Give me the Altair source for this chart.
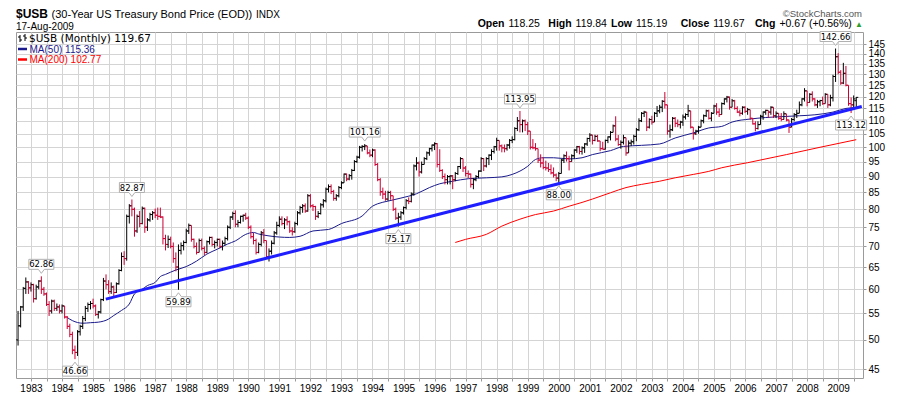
import altair as alt
import pandas as pd

# ---------------- data ----------------
START_YEAR, START_MONTH = 1982, 8          # first monthly bar: Aug 1982

close = [
    52.6, 56.3, 60.2, 61.6, 60.3,                                              # 1982 Aug-Dec
    61.0, 58.0, 60.5, 61.8, 60.0, 59.0, 56.8, 55.5, 57.5, 56.0, 56.3, 55.5,     # 1983
    56.5, 54.3, 52.5, 51.0, 48.2, 47.8, 51.5, 52.5, 54.0, 56.0, 56.8, 57.0,     # 1984
    56.5, 54.8, 55.3, 57.8, 61.8, 61.0, 59.5, 60.5, 59.3, 61.2, 64.2, 67.5,     # 1985
    67.0, 78.0, 81.0, 80.0, 74.0, 78.0, 76.0, 80.3, 75.0, 77.0, 78.5, 79.0,     # 1986
    78.3, 78.0, 77.8, 72.0, 70.5, 71.8, 70.0, 67.0, 65.0, 69.0, 70.2, 71.0,     # 1987
    74.0, 75.5, 71.8, 70.0, 68.5, 71.5, 69.5, 68.5, 71.2, 72.3, 70.5, 71.0,     # 1988
    71.8, 70.0, 70.8, 72.0, 75.0, 77.8, 78.8, 75.8, 76.3, 78.0, 78.3, 77.5,     # 1989
    75.0, 72.5, 71.5, 68.5, 70.5, 73.5, 71.5, 67.5, 68.8, 70.8, 73.5, 75.5,     # 1990
    77.2, 76.0, 77.0, 76.5, 74.0, 73.8, 76.0, 79.0, 80.5, 81.0, 79.5, 84.0,     # 1991
    81.0, 80.8, 78.0, 78.8, 81.3, 82.5, 86.0, 86.8, 85.3, 83.2, 84.0, 86.5,     # 1992
    88.0, 90.8, 89.2, 90.3, 92.0, 95.0, 96.5, 100.0, 100.3, 100.5, 98.0, 97.2,  # 1993
    99.0, 94.0, 89.0, 85.2, 84.5, 83.0, 85.0, 84.0, 80.0, 77.5, 77.8, 79.0,     # 1994
    80.5, 82.5, 82.3, 84.5, 93.5, 94.5, 91.5, 94.0, 96.0, 98.0, 99.5, 100.8,    # 1995
    101.3, 94.0, 92.0, 90.0, 89.0, 90.0, 90.2, 89.0, 91.0, 93.3, 96.0, 92.8,    # 1996
    91.0, 90.8, 87.5, 89.0, 90.0, 91.8, 96.0, 93.5, 96.0, 97.2, 98.5, 100.2,    # 1997
    102.5, 100.5, 99.8, 99.5, 100.8, 102.5, 102.8, 107.0, 110.0, 108.5, 110.0, 108.5,  # 1998
    106.0, 100.0, 99.8, 99.5, 95.5, 94.5, 93.0, 92.8, 92.3, 91.2, 90.5, 89.5,   # 1999
    91.0, 95.5, 97.0, 96.0, 95.0, 97.0, 99.0, 100.2, 98.5, 99.8, 101.2, 103.2,  # 2000
    104.5, 102.5, 104.0, 102.3, 99.5, 99.3, 102.5, 103.8, 105.5, 108.0, 103.0, 101.0,  # 2001
    101.8, 103.5, 98.0, 101.5, 102.0, 104.0, 106.5, 110.0, 113.0, 113.5, 107.5, 110.5,  # 2002
    109.5, 113.0, 114.0, 115.5, 118.0, 116.5, 106.0, 106.5, 111.0, 109.0, 108.5, 109.5,  # 2003
    111.5, 112.5, 114.0, 107.5, 105.0, 106.0, 107.5, 110.0, 112.0, 114.0, 111.0, 113.0,  # 2004
    116.0, 113.5, 112.5, 117.0, 119.0, 119.8, 115.5, 118.2, 115.0, 113.5, 113.0, 115.5,  # 2005
    113.8, 114.5, 111.0, 108.8, 107.0, 108.5, 111.8, 113.5, 114.2, 113.5, 115.5, 112.0,  # 2006
    113.0, 111.0, 110.5, 112.8, 110.3, 107.5, 110.5, 112.5, 113.0, 116.5, 119.0, 122.5,  # 2007
    117.5, 121.0, 119.0, 116.5, 117.8, 118.3, 117.0, 121.0, 116.5, 119.5, 129.0, 138.5,  # 2008
    131.0, 126.0, 130.5, 125.0, 117.0, 116.5, 119.0, 119.67,                    # 2009 Jan-Aug
]
high = [
    55.5, 56.5, 60.5, 62.6, 61.8,
    61.5, 61.2, 61.0, 62.0, 62.86, 60.5, 59.3, 57.5, 57.8, 57.8, 57.0, 56.8,
    56.8, 56.5, 54.5, 53.0, 51.5, 49.0, 51.8, 52.8, 54.5, 56.5, 57.2, 57.5,
    58.0, 56.8, 55.5, 58.0, 62.5, 63.3, 62.0, 61.5, 60.8, 61.5, 64.5, 68.5,
    68.8, 78.5, 81.5, 82.87, 80.5, 78.5, 79.5, 80.8, 80.5, 77.5, 79.0, 79.5,
    80.2, 80.5, 80.5, 78.0, 73.0, 72.8, 72.5, 71.0, 68.5, 70.5, 71.0, 71.5,
    74.6, 76.0, 75.5, 72.0, 71.0, 72.0, 72.0, 70.0, 71.5, 72.5, 72.5, 71.5,
    72.0, 72.0, 71.5, 72.5, 75.5, 78.0, 79.3, 79.7, 77.0, 78.2, 78.5, 79.0,
    78.0, 75.5, 73.5, 72.0, 71.0, 74.0, 74.5, 71.5, 69.5, 71.5, 74.0, 76.5,
    78.0, 78.0, 77.5, 78.0, 76.8, 75.0, 76.5, 79.5, 81.0, 81.5, 81.7, 84.5,
    84.5, 81.5, 81.0, 79.5, 81.8, 83.0, 86.5, 87.5, 87.5, 85.8, 84.5, 87.0,
    88.5, 91.0, 91.0, 90.8, 92.5, 95.5, 97.0, 100.5, 100.8, 101.16, 100.5, 99.2,
    99.5, 99.3, 94.5, 89.5, 86.5, 85.5, 85.5, 85.5, 84.0, 80.5, 79.0, 79.5,
    80.8, 83.0, 83.5, 85.0, 94.0, 96.5, 95.0, 95.0, 96.5, 98.5, 99.8, 101.0,
    101.8, 101.5, 99.3, 92.4, 91.0, 90.5, 90.5, 90.5, 91.5, 93.5, 96.5, 96.0,
    93.5, 92.0, 91.0, 89.5, 90.5, 92.0, 96.5, 96.2, 96.5, 97.5, 99.3, 100.5,
    103.5, 102.0, 101.0, 101.0, 101.2, 103.0, 104.0, 107.5, 111.5, 113.95, 110.5, 110.5,
    109.5, 104.5, 103.0, 101.5, 99.0, 97.5, 96.5, 95.3, 94.5, 94.0, 93.0, 91.0,
    91.5, 96.0, 97.5, 98.5, 97.0, 97.5, 99.3, 100.5, 100.5, 100.3, 101.5, 103.5,
    105.2, 104.6, 104.6, 104.6, 102.2, 102.0, 102.8, 104.0, 106.0, 108.5, 111.8, 104.5,
    102.5, 104.6, 103.0, 102.5, 102.8, 104.6, 107.2, 111.0, 113.5, 114.0, 112.0, 111.0,
    112.0, 113.5, 116.0, 116.5, 118.5, 122.0, 116.5, 108.5, 111.5, 111.5, 110.5, 110.0,
    112.5, 113.0, 116.5, 114.0, 107.5, 106.5, 108.0, 110.5, 112.5, 114.5, 114.5, 113.5,
    116.5, 117.2, 115.0, 117.5, 119.3, 120.3, 120.0, 119.0, 118.6, 115.9, 114.5, 115.9,
    115.9, 115.2, 114.5, 111.1, 109.8, 109.8, 112.4, 113.8, 114.5, 113.8, 115.9, 114.5,
    113.8, 113.1, 113.1, 113.8, 112.4, 110.4, 111.1, 113.1, 114.5, 117.9, 119.3, 123.7,
    122.5, 121.5, 122.3, 119.3, 118.6, 118.6, 120.0, 121.5, 121.0, 120.8, 129.8, 142.66,
    140.3, 132.0, 135.5, 134.0, 125.0, 119.6, 120.5, 119.84,
]
low = [
    49.0, 52.3, 55.5, 59.0, 59.0,
    59.5, 57.2, 57.8, 60.0, 59.0, 58.6, 56.5, 54.5, 55.0, 55.5, 55.5, 55.0,
    55.0, 54.0, 52.0, 50.5, 47.5, 46.66, 47.2, 50.8, 52.0, 53.5, 55.3, 55.8,
    56.0, 54.5, 54.0, 55.0, 57.5, 60.0, 59.0, 59.0, 58.5, 59.2, 61.0, 64.0,
    65.5, 66.5, 76.0, 78.0, 72.5, 73.5, 75.0, 75.8, 73.5, 74.0, 76.5, 77.0,
    77.5, 77.0, 77.5, 70.5, 69.0, 69.6, 69.5, 66.0, 64.0, 59.89, 68.0, 69.0,
    70.8, 73.2, 71.2, 69.5, 68.0, 68.5, 69.0, 67.8, 68.3, 70.5, 70.0, 69.5,
    70.0, 69.5, 69.0, 70.3, 71.5, 74.5, 77.0, 75.0, 75.0, 76.0, 76.5, 77.0,
    74.5, 72.0, 70.5, 68.0, 68.3, 70.0, 70.8, 67.0, 66.3, 68.0, 70.5, 73.0,
    75.0, 75.5, 74.5, 75.5, 73.5, 72.8, 73.5, 75.5, 78.5, 79.0, 79.0, 79.3,
    80.5, 79.5, 77.0, 77.5, 78.5, 80.5, 82.0, 85.0, 84.5, 82.5, 82.5, 83.5,
    86.0, 88.0, 88.5, 88.8, 89.0, 91.8, 94.5, 96.0, 98.5, 99.0, 97.5, 96.5,
    96.5, 93.5, 88.5, 84.0, 83.0, 82.5, 82.5, 82.8, 79.5, 77.0, 75.17, 77.0,
    78.5, 80.0, 81.5, 82.0, 84.0, 92.0, 90.0, 91.0, 94.0, 95.5, 97.0, 98.5,
    99.0, 93.0, 91.5, 89.2, 87.5, 87.5, 87.5, 86.0, 88.5, 90.5, 92.5, 91.5,
    90.0, 89.5, 86.5, 86.0, 88.5, 89.5, 91.5, 91.8, 93.0, 93.8, 95.5, 97.8,
    98.8, 98.8, 98.2, 98.2, 98.8, 99.5, 101.5, 102.5, 106.0, 105.5, 105.5, 106.0,
    104.5, 99.2, 99.3, 98.8, 94.5, 93.0, 92.4, 92.0, 91.5, 90.7, 89.7, 88.5,
    88.0, 91.0, 94.5, 95.0, 92.0, 95.0, 96.0, 98.0, 97.5, 97.4, 98.0, 100.5,
    102.0, 101.0, 102.2, 102.0, 98.6, 99.2, 99.2, 101.5, 102.5, 105.5, 102.2, 100.5,
    99.5, 101.0, 97.0, 98.0, 100.5, 101.0, 102.2, 106.0, 109.5, 111.5, 106.0, 107.0,
    108.5, 109.8, 111.5, 113.0, 113.5, 115.0, 104.6, 103.5, 106.0, 107.5, 107.5, 107.0,
    108.0, 110.5, 111.5, 107.0, 102.8, 104.5, 105.0, 107.5, 109.0, 111.5, 110.5, 109.8,
    113.5, 112.4, 111.5, 112.8, 116.5, 117.5, 114.5, 115.5, 114.5, 113.1, 111.8, 112.4,
    113.1, 112.4, 110.4, 108.5, 105.9, 106.6, 108.5, 110.4, 112.4, 111.1, 112.4, 111.1,
    111.1, 110.4, 109.8, 110.8, 109.8, 105.3, 107.5, 109.8, 111.1, 113.0, 115.9, 117.9,
    115.9, 117.5, 117.9, 115.9, 115.2, 115.9, 116.5, 117.0, 115.2, 115.9, 117.9, 126.5,
    130.0, 125.2, 125.5, 124.5, 116.1, 113.12, 115.5, 115.19,
]
first_open = 50.0
last_open = 118.25

ma50_month = ["1984-03", "1984-05", "1984-09", "1984-12", "1985-03", "1985-07", "1985-09", "1985-12",
              "1986-03", "1986-05", "1986-08", "1986-10", "1987-01", "1987-03", "1987-05", "1987-09",
              "1988-01", "1988-05", "1988-09", "1989-01", "1989-05", "1989-08", "1989-12", "1990-03",
              "1990-05", "1990-09", "1991-01", "1991-05", "1991-09", "1992-02", "1992-08", "1993-01",
              "1993-09", "1994-01", "1994-03", "1994-07", "1994-12", "1995-06", "1995-11", "1996-03",
              "1996-08", "1997-02", "1997-09", "1998-03", "1998-07", "1999-01", "1999-04", "1999-07",
              "1999-11", "2000-05", "2000-10", "2001-02", "2001-09", "2002-02", "2002-09", "2003-04",
              "2003-10", "2004-05", "2004-11", "2005-04", "2005-08", "2006-03", "2006-09", "2007-04",
              "2007-10", "2008-04", "2008-11", "2009-04", "2009-08"]
ma50_value = [54.2, 53.6, 53.1, 53.2, 53.3, 53.9, 54.6, 55.6,
              56.9, 59.0, 60.0, 60.8, 61.5, 62.8, 63.3, 64.3,
              65.1, 66.4, 68.1, 69.3, 70.6, 71.4, 73.1, 73.6,
              73.2, 72.7, 72.4, 72.3, 72.6, 74.0, 74.4, 76.0,
              78.1, 80.9, 81.6, 82.4, 83.3, 84.6, 86.5, 87.7,
              88.5, 89.3, 89.6, 89.9, 90.7, 93.4, 95.7, 96.3,
              96.3, 95.9, 96.3, 97.4, 98.8, 100.3, 100.7, 101.2,
              103.4, 105.3, 107.2, 107.8, 109.5, 110.7, 111.3, 111.7,
              112.0, 112.4, 113.5, 115.0, 115.36]

ma200_month = ["1996-09", "1997-01", "1997-09", "1998-03", "1998-10", "1999-04", "1999-11", "2000-05",
               "2000-10", "2001-02", "2001-09", "2002-03", "2002-09", "2003-04", "2003-10", "2004-05",
               "2004-11", "2005-04", "2006-02", "2007-05", "2008-06", "2009-08"]
ma200_value = [71.0, 71.8, 73.1, 75.3, 77.2, 78.5, 79.5, 80.9,
               82.0, 83.0, 84.9, 86.5, 87.5, 88.5, 89.6, 90.7,
               91.7, 92.9, 94.6, 97.4, 100.0, 102.77]

trend_t = [1985.41, 2009.76]
trend_value = [57.9, 115.8]

ann_month = ["1983-05", "1984-06", "1986-04", "1987-10", "1993-10",
             "1994-11", "1998-10", "2000-01", "2008-12", "2009-06"]
ann_value = [62.86, 46.66, 82.87, 59.89, 101.16, 75.17, 113.95, 88.00, 142.66, 113.12]
ann_side = ["above", "below", "above", "below", "above",
            "below", "above", "below", "above", "below"]

x_ticks = [1983 + k / 2 for k in range(54)]
y_ticks = list(range(45, 150, 5))

# ---------------- styling ----------------
UP, DOWN = "#000000", "#cc0033"
GRID = "#d4d4d4"
FONT = "Liberation Sans"


def month_to_t(s):
    y, m = s.split("-")
    return int(y) + (int(m) - 1) / 12


n = len(close)
opens = [first_open] + close[:-1]
opens[-1] = last_open
rows = []
for i in range(n):
    o, c = opens[i], close[i]
    rows.append(dict(
        t=START_YEAR + (START_MONTH - 1 + i) / 12,
        open=o, close=c,
        high=max(high[i], o, c), low=min(low[i], o, c),
        col=UP if (i == 0 or c >= close[i - 1]) else DOWN,
    ))
bars = pd.DataFrame(rows)

ma50 = pd.DataFrame({"t": [month_to_t(m) for m in ma50_month], "v": ma50_value})
ma200 = pd.DataFrame({"t": [month_to_t(m) for m in ma200_month], "v": ma200_value})
trend = pd.DataFrame({"t": trend_t, "v": trend_value})


def box_path(label, side):
    hw = 3.0 * len(label) - 2.5
    if side == "above":
        return (f"M{-hw},-7 L-3,-7 L0,-3 L3,-7 L{hw},-7 L{hw},-17 L{-hw},-17 Z")
    return (f"M{-hw},7 L-3,7 L0,3 L3,7 L{hw},7 L{hw},17 L{-hw},17 Z")


ann = pd.DataFrame({
    "t": [month_to_t(m) for m in ann_month],
    "v": ann_value,
    "label": [f"{v:.2f}" for v in ann_value],
    "side": ann_side,
})
ann["path"] = [box_path(l, s) for l, s in zip(ann["label"], ann["side"])]

X_SCALE = alt.Scale(domain=[1982.517, 2009.80], nice=False, zero=False)
Y_SCALE = alt.Scale(type="log", domain=[43.6, 151.4], nice=False)
X_AXIS = alt.Axis(values=x_ticks, grid=True, gridColor=GRID, gridWidth=1,
                  labelExpr="datum.value % 1 == 0 ? format(datum.value, 'd') : ''",
                  labelOverlap=False, labelFlush=False, labelBound=False,
                  tickSize=3, tickColor="#999999", domain=False, title=None,
                  labelPadding=2, labelFont=FONT, labelFontSize=10, labelColor="#000000")
Y_AXIS = alt.Axis(orient="right", values=y_ticks, grid=True, gridColor=GRID, gridWidth=1,
                  format="d", tickSize=3, tickColor="#999999", domain=False, title=None,
                  labelPadding=2, labelOverlap=False, labelFont=FONT, labelFontSize=10,
                  labelColor="#000000")


def X(field="t"):
    return alt.X(f"{field}:Q", scale=X_SCALE, axis=X_AXIS)


def Y(field):
    return alt.Y(f"{field}:Q", scale=Y_SCALE, axis=Y_AXIS)


hl = alt.Chart(bars).mark_rule(strokeWidth=1).encode(
    x=X(), y=Y("low"), y2="high:Q", color=alt.Color("col:N", scale=None))
op = alt.Chart(bars).mark_rule(strokeWidth=1, xOffset=-2, x2Offset=0).encode(
    x=X(), x2="t:Q", y=Y("open"), color=alt.Color("col:N", scale=None))
cl = alt.Chart(bars).mark_rule(strokeWidth=1, xOffset=0, x2Offset=2).encode(
    x=X(), x2="t:Q", y=Y("close"), color=alt.Color("col:N", scale=None))

ma200_line = alt.Chart(ma200).mark_line(color="#ff0000", strokeWidth=1, interpolate="monotone").encode(
    x=X(), y=Y("v"))
ma50_line = alt.Chart(ma50).mark_line(color="#1a1a8c", strokeWidth=1, interpolate="monotone").encode(
    x=X(), y=Y("v"))
trend_line = alt.Chart(trend).mark_line(color="#1e1eff", strokeWidth=3).encode(x=X(), y=Y("v"))

boxes = alt.Chart(ann).mark_point(filled=True, fill="white", stroke="#b0b0b0", strokeWidth=1,
                                  size=4, opacity=1).encode(
    x=X(), y=Y("v"), shape=alt.Shape("path:N", scale=None))
ann_above = alt.Chart(ann[ann.side == "above"]).mark_text(
    font="DejaVu Sans", fontSize=8.5, dy=-12, color="#000000").encode(x=X(), y=Y("v"), text="label:N")
ann_below = alt.Chart(ann[ann.side == "below"]).mark_text(
    font="DejaVu Sans", fontSize=8.5, dy=12, color="#000000").encode(x=X(), y=Y("v"), text="label:N")

ONE = pd.DataFrame({"a": [0]})


def txt(s, x, y, size=11, weight="normal", color="#000000", font=FONT, align="left"):
    return alt.Chart(pd.DataFrame({"s": [s]})).mark_text(
        align=align, baseline="alphabetic", font=font, fontSize=size, fontWeight=weight,
        color=color).encode(x=alt.value(x), y=alt.value(y), text="s:N")


def hrule(x1, x2, y, color, w=1):
    return alt.Chart(ONE).mark_rule(color=color, strokeWidth=w).encode(
        x=alt.value(x1), x2=alt.value(x2), y=alt.value(y))


def vrule(x, y1, y2, color, w=1):
    return alt.Chart(ONE).mark_rule(color=color, strokeWidth=w).encode(
        x=alt.value(x), y=alt.value(y1), y2=alt.value(y2))


HS = 10.5   # size of the quote line on the top right
header = [
    txt("$USB", 0, -14, size=12, weight="bold"),
    txt("(30-Year US Treasury Bond Price (EOD))", 35.5, -14, size=11),
    txt("INDX", 240, -14, size=10),
    txt("17-Aug-2009", 0, -2.5, size=10),
    txt("\u00a9StockCharts.com", 846, -15.5, size=9.5, color="#555555", align="right"),
    txt("Open", 461.7, -5, size=HS, weight="bold"),
    txt("118.25", 492.5, -5, size=HS),
    txt("High", 532.3, -5, size=HS, weight="bold"),
    txt("119.84", 559.6, -5, size=HS),
    txt("Low", 595, -5, size=HS, weight="bold"),
    txt("115.19", 620, -5, size=HS),
    txt("Close", 664.7, -5, size=HS, weight="bold"),
    txt("119.67", 697.3, -5, size=HS),
    txt("Chg", 739, -5, size=HS, weight="bold"),
    txt("+0.67 (+0.56%)", 763.4, -5, size=HS),
    txt("\u25b2", 839, -5.5, size=8, color="#2e9e2e"),
]
legend = [
    vrule(4, 3, 10, "#000000"), hrule(2, 4, 5, "#000000"), hrule(4, 6, 8, "#000000"),
    vrule(9, 2, 9, "#000000"), hrule(7, 9, 4, "#000000"), hrule(9, 11, 6, "#000000"),
    txt("$USB (Monthly) 119.67", 13, 9.5, size=10.5, font="DejaVu Sans"),
    hrule(2, 11, 17, "#1a1a8c", 2.5),
    txt("MA(50) 115.36", 13.5, 20.5, size=10, color="#1a1a8c"),
    hrule(2, 11, 27.5, "#ff0000", 2.5),
    txt("MA(200) 102.77", 13.5, 31, size=10, color="#ff0000"),
]

chart = alt.layer(
    ma200_line, ma50_line, hl, op, cl, trend_line, boxes, ann_above, ann_below,
    *header, *legend
).properties(
    width=847, height=346,
    autosize=alt.AutoSizeParams(type="none"),
    padding={"left": 8, "top": 24, "right": 29, "bottom": 18},
    background="white",
).configure_view(stroke="#9a9a9a", strokeWidth=1)

chart.save("out.html", embed_options={"renderer": "svg", "actions": False})
